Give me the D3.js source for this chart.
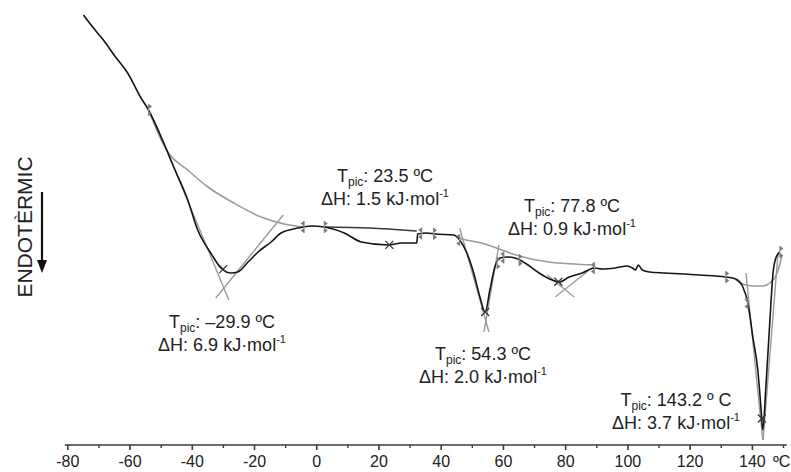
<!DOCTYPE html>
<html>
<head>
<meta charset="utf-8">
<script src="https://cdn.jsdelivr.net/npm/d3@7"></script>
<style>
  html, body { margin: 0; padding: 0; background: #fff; }
  svg { display: block; font-family: "Liberation Sans", Arial, sans-serif; }
</style>
</head>
<body>
<svg id="chart" width="791" height="472"></svg>
<script>
// DSC trace: temperature (ºC) and heat flow (arbitrary units, endothermic down)
const dscTemp = [-74.8, -71.6, -68.4, -64.5, -60.6, -56.5, -53.9, -49.0, -45.8, -41.3,
  -38.1, -33.9, -30.6, -27.4, -25.2, -21.9, -18.7, -14.5, -11.3, -5.8, -1.6, 2.6, 9.0,
  14.5, 23.2, 27.4, 32.3, 32.6, 35.5, 38.1, 44.2, 46.1, 48.4, 50.6, 52.6, 54.3, 55.8,
  57.4, 59.0, 61.3, 63.9, 67.1, 71.6, 75.8, 78.1, 81.3, 85.5, 89.4, 91.9, 96.1, 100.0,
  101.6, 102.6, 103.5, 104.8, 107.1, 112.3, 123.2, 131.6, 134.8, 137.1, 138.7, 140.3,
  141.9, 142.9, 143.5, 144.5, 145.8, 146.8, 147.7, 149.0];
const dscFlow = [43.0, 41.7, 40.5, 38.8, 37.2, 34.8, 33.5, 30.2, 27.8, 24.5,
  21.5, 19.2, 17.7, 17.2, 17.3, 18.3, 19.3, 20.3, 21.2, 21.7, 21.9, 21.8, 21.2,
  20.3, 20.0, 20.2, 20.2, 21.1, 21.2, 21.1, 21.0, 20.5, 19.2, 17.2, 14.8, 13.3, 15.5,
  17.8, 18.7, 18.8, 18.7, 18.2, 17.2, 16.5, 16.3, 16.8, 17.2, 17.7, 17.6, 17.7, 17.9,
  17.7, 17.5, 18.0, 17.5, 17.3, 17.2, 17.0, 16.8, 16.6, 15.8, 14.2, 10.8,
  7.5, 3.8, 1.5, 5.8, 12.5, 17.2, 18.7, 19.3];

// Integration baselines [T, flow]
const baselineCold = [[-53.9, 33.5], [-49.0, 30.0], [-47.7, 29.3], [-41.3, 27.5], [-34.8, 25.8],
  [-26.5, 24.2], [-17.7, 22.8], [-10.3, 22.1], [-3.9, 21.8]];
const baselineRoom = [[2.6, 21.8], [17.0, 21.7], [32.3, 21.4]];
const baselineMid = [[44.2, 21.0], [46.1, 20.7], [53.2, 20.2], [58.7, 19.6], [65.2, 18.9],
  [74.8, 18.3], [89.7, 18.0]];
const baselineMelt = [[134.8, 16.5], [137.1, 16.1], [140.3, 15.9], [143.5, 15.9],
  [146.1, 16.3], [147.7, 16.9], [149.0, 18.1], [149.7, 19.0]];

// Onset / endset tangents, each a pair of [T, flow]
const tangentLines = [
  [[-49.0, 30.2], [-28.1, 14.5]],
  [[-32.3, 14.7], [-10.6, 23.0]],
  [[46.1, 21.7], [55.5, 11.3]],
  [[58.7, 20.0], [53.9, 11.3]],
  [[74.2, 17.0], [82.9, 14.8]],
  [[76.8, 14.8], [89.4, 17.9]],
  [[138.1, 17.2], [143.5, 0.5]],
  [[148.4, 19.2], [143.6, 0.5]]
];

// Integration limits on the trace
const limitTemps = [-53.9, -3.9, 2.6, 33.9, 37.7, 46.1, 58.1, 60.3, 65.2, 89.4, 131.6, 138.7, 149.0];

// Peak results
const peakTemps = [-29.9, 23.5, 54.3, 77.8, 143.2];
const peakTempText = ["–29.9 ºC", "23.5 ºC", "54.3 ºC", "77.8 ºC", "143.2 º C"];
const peakEnthalpy = ["6.9", "1.5", "2.0", "0.9", "3.7"];

// Axis ticks
const majorTicks = [-80, -60, -40, -20, 0, 20, 40, 60, 80, 100, 120, 140];
const minorTicks = [-70, -50, -30, -10, 10, 30, 50, 70, 90, 110, 130, 150];

// Label placement (pixel centre / first baseline of each two-line block)
const labelPos = [[222, 328], [385, 182], [483, 360], [572, 212], [676, 406]];

const svg = d3.select("#chart");
const x = d3.scaleLinear().domain([-80, 150]).range([67.3, 783]);
const y = d3.scaleLinear().domain([0, 44.5]).range([445, 0]);

const trace = dscTemp.map((t, i) => [t, dscFlow[i]]);
const flowAt = t => {
  const i = d3.bisector(d => d[0]).left(trace, t);
  if (i <= 0) return trace[0][1];
  if (i >= trace.length) return trace[trace.length - 1][1];
  const a = trace[i - 1], b = trace[i];
  return a[1] + (b[1] - a[1]) * (t - a[0]) / (b[0] - a[0]);
};

const line = d3.line().x(d => x(d[0])).y(d => y(d[1])).curve(d3.curveMonotoneX);
const straight = d3.line().x(d => x(d[0])).y(d => y(d[1]));

const grey = "#9a9a9a";

// tangents
svg.append("g").selectAll("path").data(tangentLines).join("path")
  .attr("d", straight).attr("fill", "none").attr("stroke", grey).attr("stroke-width", 1.4);

// baselines
svg.append("g").selectAll("path").data([baselineCold, baselineMid, baselineMelt]).join("path")
  .attr("d", line).attr("fill", "none").attr("stroke", grey).attr("stroke-width", 1.6);
svg.append("path").datum(baselineRoom).attr("d", line).attr("fill", "none")
  .attr("stroke", "#3a3a3a").attr("stroke-width", 1.3);

// DSC trace
svg.append("path").datum(trace).attr("d", line).attr("fill", "none")
  .attr("stroke", "#151515").attr("stroke-width", 1.6).attr("stroke-linejoin", "round");

// integration limit markers
const lim = svg.append("g");
limitTemps.forEach((t, i) => {
  const cx = x(t), cy = y(flowAt(t));
  lim.append("line").attr("x1", cx).attr("x2", cx).attr("y1", cy - 6).attr("y2", cy + 6)
    .attr("stroke", grey).attr("stroke-width", 1.2);
  const dir = i % 2 === 0 ? 1 : -1;
  lim.append("path")
    .attr("d", `M${cx},${cy - 6} l${3.5 * dir},2.5 l${-3.5 * dir},2.5 Z M${cx},${cy + 1} l${3.5 * dir},2.5 l${-3.5 * dir},2.5 Z`)
    .attr("fill", "#777");
});

// peak markers
svg.append("g").selectAll("path").data(peakTemps).join("path")
  .attr("transform", d => `translate(${x(d)},${y(flowAt(d))})`)
  .attr("d", "M-4,-4L4,4M-4,4L4,-4")
  .attr("stroke", "#333").attr("stroke-width", 1.2);

// x axis
const axisColor = "#3c3c3c";
const gx = svg.append("g").attr("transform", "translate(0,445)");
gx.append("line").attr("x1", x(-80.8)).attr("x2", x(151.2))
  .attr("stroke", axisColor).attr("stroke-width", 1.6);
const ax = gx.append("g").call(d3.axisBottom(x).tickValues(majorTicks).tickSize(5)
  .tickPadding(6).tickSizeOuter(0).tickFormat(d => String(d)));
ax.select(".domain").remove();
ax.selectAll("line").attr("stroke", axisColor).attr("stroke-width", 1.6);
ax.selectAll("text").attr("font-size", 16).attr("fill", "#222")
  .attr("font-family", "'Liberation Sans', Arial, sans-serif");
const mx = gx.append("g").call(d3.axisBottom(x).tickValues(minorTicks).tickSize(3)
  .tickSizeOuter(0).tickFormat(""));
mx.select(".domain").remove();
mx.selectAll("line").attr("stroke", axisColor).attr("stroke-width", 1.4);
svg.append("text").attr("x", 773).attr("y", 467).attr("font-size", 16).attr("fill", "#222")
  .text("ºC");

// y label with arrow
svg.append("text").attr("transform", "translate(32,227) rotate(-90)")
  .attr("text-anchor", "middle").attr("font-size", 21).attr("fill", "#222")
  .text("ENDOTÈRMIC");
svg.append("line").attr("x1", 42).attr("x2", 42).attr("y1", 192).attr("y2", 262)
  .attr("stroke", "#111").attr("stroke-width", 2.2);
svg.append("path").attr("d", "M37,260 L47,260 L42,273 Z").attr("fill", "#111");

// peak labels
const labels = svg.append("g").attr("fill", "#222").attr("font-size", 18).attr("text-anchor", "middle");
peakTemps.forEach((t, i) => {
  const [lx, ly] = labelPos[i];
  const t1 = labels.append("text").attr("x", lx).attr("y", ly);
  t1.append("tspan").text("T");
  t1.append("tspan").attr("font-size", 12).attr("dy", 4).text("pic");
  t1.append("tspan").attr("dy", -4).text(": " + peakTempText[i]);
  const t2 = labels.append("text").attr("x", lx).attr("y", ly + 23);
  t2.append("tspan").text("ΔH: " + peakEnthalpy[i] + " kJ·mol");
  t2.append("tspan").attr("font-size", 11).attr("dy", -8).text("-1");
});
</script>
</body>
</html>
